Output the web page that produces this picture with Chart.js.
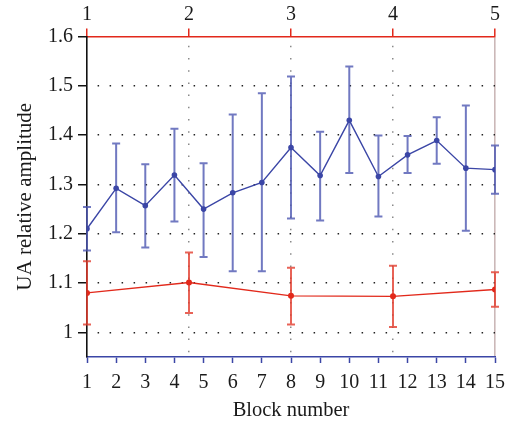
<!DOCTYPE html>
<html><head><meta charset="utf-8">
<script src="https://cdn.jsdelivr.net/npm/chart.js@4.4.1/dist/chart.umd.min.js"></script>
<style>html,body{margin:0;padding:0;background:#fff}</style>
</head><body>
<canvas id="c" width="525" height="427"></canvas>
<script>
// ---- data ----
const blocks = [1,2,3,4,5,6,7,8,9,10,11,12,13,14,15];
const blueMean  = [1.210,1.292,1.257,1.319,1.250,1.283,1.304,1.375,1.318,1.430,1.316,1.360,1.389,1.333,1.330];
const blueUpper = [1.254,1.383,1.341,1.413,1.343,1.442,1.485,1.519,1.407,1.539,1.399,1.398,1.436,1.460,1.379];
const blueLower = [1.166,1.203,1.172,1.225,1.153,1.124,1.124,1.231,1.227,1.323,1.235,1.323,1.342,1.206,1.281];

const sessions = [1,2,3,4,5];
const redMean  = [1.080,1.101,1.074,1.073,1.087];
const redUpper = [1.144,1.162,1.131,1.135,1.122];
const redLower = [1.016,1.039,1.016,1.011,1.052];

const yTicks = [1.0,1.1,1.2,1.3,1.4,1.5,1.6];
const bottomTicks = blocks;
const topTicks = sessions;

const yTitle = 'UA relative amplitude';
const xTitle = 'Block number';

// ---- plugin: error bars through the scales ----
const errorBars = {
  id: 'errorBars',
  beforeDatasetsDraw(chart) {
    const c = chart.ctx;
    chart.data.datasets.forEach((ds, i) => {
      const meta = chart.getDatasetMeta(i);
      const xs = chart.scales[meta.xAxisID], ys = chart.scales[meta.yAxisID];
      c.save();
      c.strokeStyle = ds.errColor;
      c.lineWidth = ds.errWidth;
      ds.errLow.forEach((lo, j) => {
        const x = xs.getPixelForValue(ds.data[j].x);
        const yl = ys.getPixelForValue(lo);
        const yh = ys.getPixelForValue(ds.errHigh[j]);
        const w = ds.capHalf;
        c.beginPath();
        c.moveTo(x, yl); c.lineTo(x, yh);
        c.moveTo(x - w, yl); c.lineTo(x + w, yl);
        c.moveTo(x - w, yh); c.lineTo(x + w, yh);
        c.stroke();
      });
      c.restore();
    });
  }
};

Chart.defaults.font.family = "'Liberation Serif','DejaVu Serif',serif";
Chart.defaults.color = '#1a1a1a';

const font = {size: 20};

new Chart(document.getElementById('c'), {
  type: 'line',
  data: {
    datasets: [
      {
        label: 'Blocks',
        data: blocks.map((b, i) => ({x: b, y: blueMean[i]})),
        xAxisID: 'x', yAxisID: 'y',
        borderColor: '#3b46a6', backgroundColor: '#3b46a6',
        borderWidth: 1.4, pointRadius: 2.8, pointBorderWidth: 0,
        errLow: blueLower, errHigh: blueUpper, errColor: 'rgba(78,88,178,0.8)', errWidth: 2, capHalf: 4
      },
      {
        label: 'Sessions',
        data: sessions.map((s, i) => ({x: s, y: redMean[i]})),
        xAxisID: 'x2', yAxisID: 'y',
        borderColor: '#e2291b', backgroundColor: '#e2291b',
        borderWidth: 1.4, pointRadius: 3, pointBorderWidth: 0,
        errLow: redLower, errHigh: redUpper, errColor: 'rgba(226,60,45,0.8)', errWidth: 2, capHalf: 4
      }
    ]
  },
  options: {
    responsive: false,
    animation: false,
    devicePixelRatio: 1,
    layout: {padding: {left: 0, right: 30, top: 0, bottom: 0}},
    plugins: {legend: {display: false}, tooltip: {enabled: false}},
    elements: {line: {tension: 0}},
    scales: {
      x: {
        type: 'linear', position: 'bottom', min: 1, max: 15,
        afterBuildTicks: s => { s.ticks = bottomTicks.map(v => ({value: v})); },
        afterFit: s => { s.height = 70; },
        ticks: {font, padding: 8, maxRotation: 0, autoSkip: false},
        grid: {drawOnChartArea: false, drawTicks: true, tickLength: 6, tickColor: '#3b46a6', tickWidth: 1.5},
        border: {color: '#3b46a6', width: 1.6},
        title: {display: true, text: xTitle, font: {size: 20.5}, padding: {top: 0, bottom: 4}}
      },
      x2: {
        type: 'linear', position: 'top', min: 1, max: 5,
        afterBuildTicks: s => { s.ticks = topTicks.map(v => ({value: v})); },
        afterFit: s => { s.height = 36.5; },
        ticks: {font, padding: 2, maxRotation: 0, autoSkip: false},
        grid: {
          drawOnChartArea: true, drawTicks: true, tickLength: 8, tickColor: '#e2291b', tickWidth: 1.5,
          color: ctx => ctx.index === 0 ? 'rgba(0,0,0,0)' : (ctx.index === 4 ? '#cbb8b8' : '#8a8a8a'),
          lineWidth: ctx => ctx.index === 4 ? 1.6 : 1.5
        },
        border: {color: '#e2291b', width: 1.6, dash: ctx => ctx.index === 4 ? [] : [1.5, 10.7], dashOffset: 4}
      },
      y: {
        type: 'linear', position: 'left', min: 0.95, max: 1.6,
        afterBuildTicks: s => { s.ticks = yTicks.map(v => ({value: v})); },
        afterFit: s => { s.width = 87; },
        ticks: {font, padding: 5, callback: v => (Math.abs(v - 1) < 1e-9 ? '1' : v.toFixed(1))},
        grid: {
          drawOnChartArea: true, drawTicks: true, tickLength: 9, tickColor: '#111', tickWidth: 1.5,
          color: ctx => (ctx.tick && Math.abs(ctx.tick.value - 1.6) < 1e-9) ? 'rgba(0,0,0,0)' : '#222',
          lineWidth: 1.5
        },
        border: {color: '#111', width: 1.6, dash: [1.5, 10.5], dashOffset: 2},
        title: {display: true, text: yTitle, font: {size: 21}, padding: {top: 13, bottom: 0}}
      }
    }
  },
  plugins: [errorBars]
});
</script>
</body></html>
